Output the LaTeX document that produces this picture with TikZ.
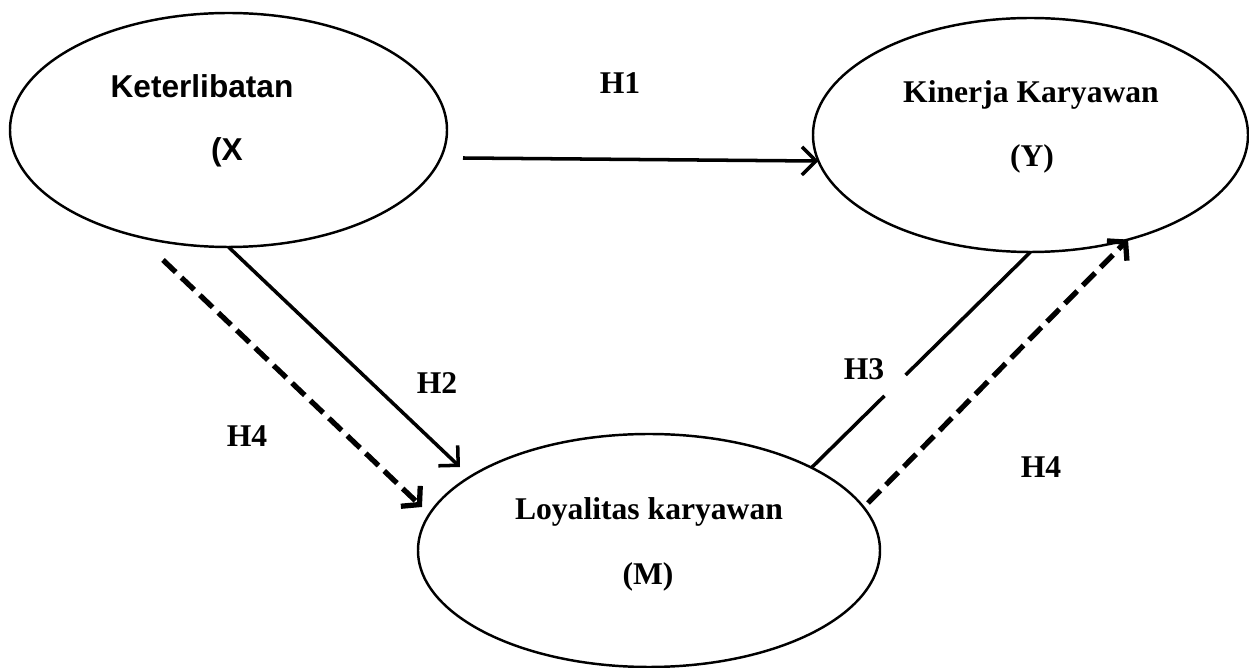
\documentclass[tikz,border=0pt]{standalone}
\usepackage{fontspec}
\setmainfont{Liberation Serif}
\newfontfamily\arialfont{Liberation Sans}
\usetikzlibrary{arrows.meta,calc,shapes.geometric}
\tikzset{
  oval/.style={draw, ellipse, line width=1.4pt, inner sep=0pt, outer sep=0pt},
  lbl/.style={font=\fontsize{18}{22}\selectfont\bfseries, inner sep=0pt, anchor=base},
  hlbl/.style={font=\fontsize{18}{22}\selectfont\bfseries, inner sep=0pt},
  solidarrow/.style={line width=2pt, -{Straight Barb[length=8pt,width=16pt,line width=2pt]}},
  solidline/.style={line width=2pt},
  dasharrow/.style={line width=3pt, dash pattern=on 10pt off 4.5pt, -{Straight Barb[length=7pt,width=16pt,line width=3pt]}},
}
\begin{document}
\begin{tikzpicture}[x=0.02cm, y=-0.02cm]
\useasboundingbox (0,0) rectangle (1249,668);
% ellipses
\node[oval, minimum width=437*0.02cm, minimum height=234*0.02cm] (x) at (228.5,130) {};
\node[oval, minimum width=435*0.02cm, minimum height=234*0.02cm] (y) at (1030.5,135) {};
\node[oval, minimum width=462*0.02cm, minimum height=233*0.02cm] (m) at (649,550.5) {};
% texts
\node[lbl, font=\fontsize{18}{22}\selectfont\arialfont\bfseries] (xt1) at (202,98) {Keterlibatan};
\node[lbl, font=\fontsize{18}{22}\selectfont\arialfont\bfseries] (xt2) at (227,161) {(X};
\node[lbl] (yt1) at (1031,103) {Kinerja Karyawan};
\node[lbl] (yt2) at (1032,167) {(Y)};
\node[lbl] (mt1) at (649,520) {Loyalitas karyawan};
\node[lbl] (mt2) at (648,585) {(M)};
% hypothesis labels
\node[hlbl] (h1) at (620,83) {H1};
\node[hlbl] (h2) at (437,383) {H2};
\node[hlbl] (h4a) at (247,436) {H4};
\node[hlbl] (h3) at (864,369) {H3};
\node[hlbl] (h4b) at (1041,467) {H4};
% free ends
\coordinate (h1s) at (463,158);
\coordinate (h2e) at (460,467);
\coordinate (h4s) at (163,260);
\coordinate (h4e) at (422,507);
\coordinate (h4bs) at (868,503);
% connectors
\draw[solidarrow] (h1s) -- (y.187);
\draw[solidarrow] (x.south) -- (h2e);
\draw[dasharrow] (h4s) -- (h4e);
\draw[solidline] (m.27.4) -- ($(m.27.4)!0.333!(y.south)$);
\draw[solidline] ($(m.27.4)!0.43!(y.south)$) -- (y.south);
\draw[dasharrow] (h4bs) -- (y.-47.6);
\end{tikzpicture}
\end{document}
